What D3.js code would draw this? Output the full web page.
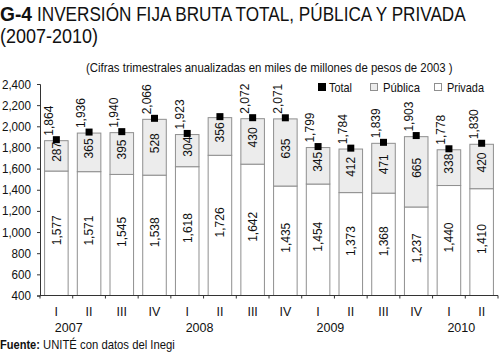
<!DOCTYPE html>
<html><head><meta charset="utf-8">
<script src="https://cdn.jsdelivr.net/npm/d3@7"></script>
<style>
body{margin:0;background:#fff;}
text{font-family:"Liberation Sans",Arial,sans-serif;fill:#111;}
</style></head>
<body><svg id="c" width="500" height="356"></svg>
<script>
const quarters = ["I","II","III","IV","I","II","III","IV","I","II","III","IV","I","II"];
const years = ["2007","2007","2007","2007","2008","2008","2008","2008","2009","2009","2009","2009","2010","2010"];
const privada = [1577,1571,1545,1538,1618,1726,1642,1435,1454,1373,1368,1237,1440,1410];
const publica = [287,365,395,528,304,356,430,635,345,412,471,665,338,420];
const total = [1864,1936,1940,2066,1923,2082,2072,2071,1799,1784,1839,1903,1778,1830];
const totalLabelShown = [true,true,true,true,true,false,true,true,true,true,true,true,true,true];
const yTicks = [400,600,800,1000,1200,1400,1600,1800,2000,2200,2400];
const yearLabels = ["2007","2008","2009","2010"];

const svg = d3.select("#c");
const cats = quarters.map((q,i)=>years[i]+"-"+q);
const x = d3.scaleBand().domain(cats).range([40,498]).paddingInner(0.28).paddingOuter(0.14);
const y = d3.scaleLinear().domain([400,2400]).range([295.5,84]);
const fmt = d3.format(",");

function fit(sel, target){
  sel.each(function(){
    d3.select(this).attr("textLength",target).attr("lengthAdjust","spacingAndGlyphs");
  });
  return sel;
}
function squeezed(px, py, size, txt, target, bold){
  const gg = svg.append("g");
  const tt = gg.append("text").attr("x",0).attr("y",0).style("font-size",size+"px").text(txt);
  if(bold) tt.attr("font-weight","bold");
  const w = tt.node().getComputedTextLength();
  gg.attr("transform",`translate(${px},${py}) scale(${target/w},1)`);
  return tt;
}

// Title
squeezed(0,21,20,"G-4",32,true);
squeezed(37,21,20,"INVERSIÓN FIJA BRUTA TOTAL, PÚBLICA Y PRIVADA",429,false);
squeezed(0,43,20,"(2007-2010)",98,false);
squeezed(86,72,12.5,"(Cifras trimestrales anualizadas en miles de millones de pesos de 2003 )",367,false);

// Y axis
const yAxis = svg.append("g").attr("transform","translate(40,0)")
  .call(d3.axisLeft(y).tickValues(yTicks).tickSize(3).tickFormat(fmt));
yAxis.select(".domain").attr("stroke","#333");
yAxis.selectAll(".tick line").attr("stroke","#333");
yAxis.selectAll("text").style("font-size","12.5px").attr("fill","#111").attr("x",-9)
  .attr("font-family",null).each(function(){
    const w=this.getComputedTextLength(); d3.select(this).attr("textLength",w*0.93).attr("lengthAdjust","spacingAndGlyphs");
  });

// Bars
const g = svg.append("g");
const FS = 12;
function vlabel(cx, cy, txt, anchor){
  g.append("g").attr("transform",`translate(${cx},${cy}) rotate(-90)`)
    .append("text").attr("x",0).attr("y",0).attr("text-anchor",anchor)
    .attr("dy","0.36em").style("font-size",FS+"px").text(txt);
}
cats.forEach((c,i)=>{
  const bx = x(c), bw = x.bandwidth();
  g.append("rect").attr("x",bx).attr("width",bw)
    .attr("y",y(privada[i])).attr("height",y(400)-y(privada[i]))
    .attr("fill","#fff").attr("stroke","#8f8f8f").attr("stroke-width",1);
  g.append("rect").attr("x",bx).attr("width",bw)
    .attr("y",y(privada[i]+publica[i])).attr("height",y(privada[i])-y(privada[i]+publica[i]))
    .attr("fill","#ececec").attr("stroke","#8f8f8f").attr("stroke-width",1);
  const cx = bx+bw/2;
  vlabel(cx, (y(privada[i])+y(privada[i]+publica[i]))/2 - 4, fmt(publica[i]), "middle");
  vlabel(cx, (y(400)+y(privada[i]))/2 - 3, fmt(privada[i]), "middle");
  g.append("rect").attr("x",cx-3.5).attr("y",y(total[i])-4.5).attr("width",7).attr("height",7).attr("fill","#000");
  if(totalLabelShown[i]) vlabel(cx-8, y(total[i])-5, fmt(total[i]), "start");
});

// X axis
const xa = svg.append("g");
xa.append("line").attr("x1",40).attr("x2",498).attr("y1",y(400)).attr("y2",y(400)).attr("stroke","#333");
for(let i=0;i<=cats.length;i++){
  const tx = 40 + i*x.step();
  xa.append("line").attr("x1",tx).attr("x2",tx).attr("y1",y(400)).attr("y2",y(400)+3).attr("stroke","#333");
}
cats.forEach((c,i)=>{
  xa.append("text").attr("x",x(c)+x.bandwidth()/2).attr("y",316).attr("text-anchor","middle")
    .style("font-size","12.5px").text(quarters[i]);
});
yearLabels.forEach(yr=>{
  const i = years.indexOf(yr);
  xa.append("text").attr("x",40+(i+1)*x.step()-4).attr("y",332).attr("text-anchor","middle")
    .style("font-size","12.5px").text(yr);
});

// Legend
const leg = svg.append("g");
const legItems = [["Total","#000","#000",318,329,23],["Pública","#ececec","#8f8f8f",370,383,37],["Privada","#fff","#8f8f8f",434,447,37]];
legItems.forEach(([lab,f,s,lx,tx,tw])=>{
  leg.append("rect").attr("x",lx+0.5).attr("y",83.5).attr("width",7).attr("height",7).attr("fill",f).attr("stroke",s);
  fit(leg.append("text").attr("x",tx).attr("y",92).style("font-size","13px").text(lab),tw);
});

// Footer
squeezed(0,348.5,12.5,"Fuente:",40,true);
squeezed(43,348.5,12.5,"UNITÉ con datos del Inegi",132,false);
</script></body></html>
